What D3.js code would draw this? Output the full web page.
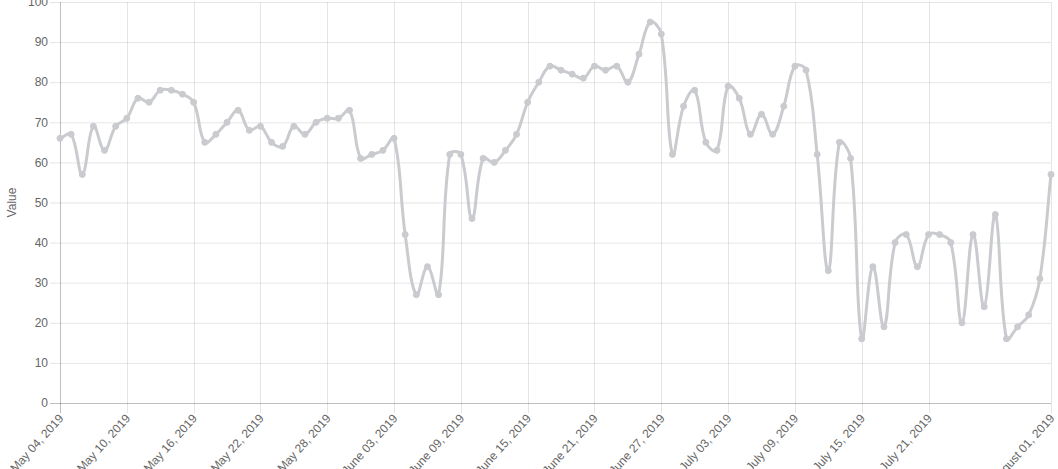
<!DOCTYPE html>
<html><head><meta charset="utf-8">
<script src="https://cdn.jsdelivr.net/npm/d3@7"></script>
<style>html,body{margin:0;padding:0;background:#fff;overflow:hidden}</style>
</head><body>
<svg id="chart" width="1058" height="469"></svg>
<script>
const startDate = "2019-05-04";
const values = [66,67,57,69,63,69,71,76,75,78,78,77,75,65,67,70,73,68,69,65,64,69,67,70,71,71,73,61,62,63,
  66,42,27,34,27,62,62,46,61,60,63,67,75,80,84,83,82,81,84,83,84,80,87,95,92,62,74,78,65,63,
  79,76,67,72,67,74,84,83,62,33,65,61,16,34,19,40,42,34,42,42,40,20,42,24,47,16,19,22,31,57];
const xTickDates = ["2019-05-04","2019-05-10","2019-05-16","2019-05-22","2019-05-28","2019-06-03","2019-06-09",
  "2019-06-15","2019-06-21","2019-06-27","2019-07-03","2019-07-09","2019-07-15","2019-07-21","2019-08-01"];
const yTicks = [0,10,20,30,40,50,60,70,80,90,100];

const parse = d3.timeParse("%Y-%m-%d");
const t0 = parse(startDate);
const data = values.map((v,i)=>({date:d3.timeDay.offset(t0,i), value:v}));

const L=60, R=1051, T=2, B=403;
const x = d3.scaleTime().domain([t0, parse("2019-08-01")]).range([L,R]);
const y = d3.scaleLinear().domain([0,100]).range([B,T]);
const svg = d3.select("#chart");
const font = "Helvetica Neue, Helvetica, Arial, Liberation Sans, sans-serif";
const grid = "rgba(0,0,0,0.1)";

// horizontal grid + y ticks
svg.append("g").selectAll("line").data(yTicks).join("line")
  .attr("x1",L-10).attr("x2",R).attr("y1",d=>y(d)+0.5).attr("y2",d=>y(d)+0.5)
  .attr("stroke",d=>d===0?"rgba(0,0,0,0.25)":grid).attr("stroke-width",1);
svg.append("g").selectAll("text").data(yTicks).join("text")
  .attr("x",L-12).attr("y",d=>y(d)).attr("dy","0.35em").attr("text-anchor","end")
  .attr("font-family",font).attr("font-size",12).attr("fill","#666").text(d=>d);

// vertical grid + x ticks
const xt = xTickDates.map(parse);
svg.append("g").selectAll("line").data(xt).join("line")
  .attr("x1",d=>Math.round(x(d))+0.5).attr("x2",d=>Math.round(x(d))+0.5).attr("y1",T).attr("y2",B+10)
  .attr("stroke",(d,i)=>i===0?"rgba(0,0,0,0.25)":grid).attr("stroke-width",1);
const fmt = d3.timeFormat("%B %d, %Y");
svg.append("g").selectAll("text").data(xt).join("text")
  .attr("transform",d=>`translate(${x(d)+1},${B+13}) rotate(-48)`)
  .attr("dy","0.35em").attr("text-anchor","end")
  .attr("font-family",font).attr("font-size",12).attr("fill","#666").text(d=>fmt(d));

// axis title
svg.append("text").attr("transform",`translate(12,${(T+B)/2}) rotate(-90)`)
  .attr("dy","0.35em").attr("text-anchor","middle")
  .attr("font-family",font).attr("font-size",12).attr("fill","#666").text("Value");

// Chart.js-style spline (tension 0.4)
const pts = data.map(d=>({x:x(d.date), y:y(d.value)}));
const tension = 0.4;
pts.forEach((p,i)=>{
  const prev = pts[Math.max(0,i-1)], next = pts[Math.min(pts.length-1,i+1)];
  const d01 = Math.hypot(p.x-prev.x,p.y-prev.y), d12 = Math.hypot(next.x-p.x,next.y-p.y);
  let s01 = d01/(d01+d12), s12 = d12/(d01+d12);
  if(!isFinite(s01)) s01=0; if(!isFinite(s12)) s12=0;
  const fa = tension*s01, fb = tension*s12;
  p.cpx1 = p.x - fa*(next.x-prev.x); p.cpy1 = p.y - fa*(next.y-prev.y);
  p.cpx2 = p.x + fb*(next.x-prev.x); p.cpy2 = p.y + fb*(next.y-prev.y);
  p.cpy1 = Math.max(T,Math.min(B,p.cpy1)); p.cpy2 = Math.max(T,Math.min(B,p.cpy2));
  p.cpx1 = Math.max(L,Math.min(R,p.cpx1)); p.cpx2 = Math.max(L,Math.min(R,p.cpx2));
});
const path = d3.path();
path.moveTo(pts[0].x, pts[0].y);
for(let i=1;i<pts.length;i++){
  const a=pts[i-1], b=pts[i];
  path.bezierCurveTo(a.cpx2,a.cpy2,b.cpx1,b.cpy1,b.x,b.y);
}
svg.append("path").attr("d",path.toString()).attr("fill","none")
  .attr("stroke","rgb(201,203,207)").attr("stroke-width",3);

svg.append("g").selectAll("circle").data(data).join("circle")
  .attr("cx",d=>x(d.date)).attr("cy",d=>y(d.value)).attr("r",3)
  .attr("fill","rgb(201,203,207)").attr("stroke","rgb(201,203,207)").attr("stroke-width",1);
</script>
</body></html>
